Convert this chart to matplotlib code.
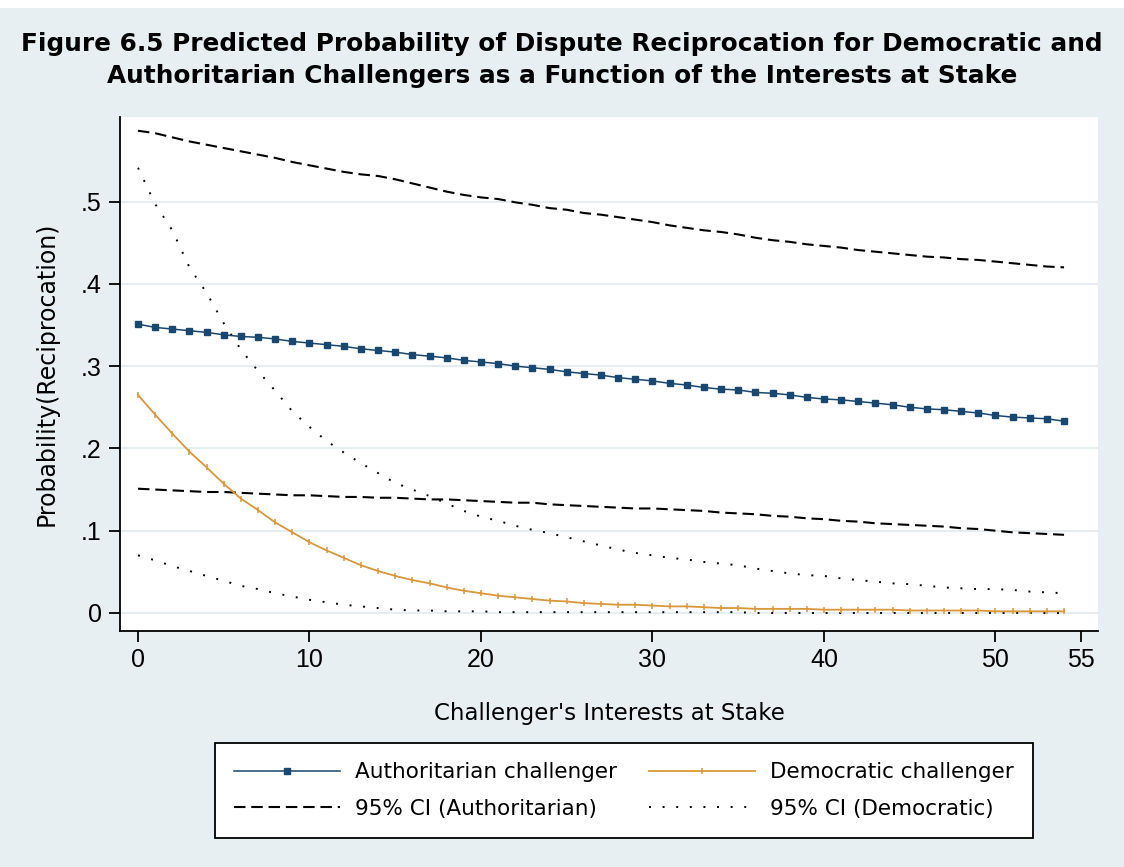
import matplotlib.pyplot as plt
from matplotlib.patches import Rectangle
import numpy as np

# Challenger's interests at stake (0..54)
interests = list(range(55))

auth_prob = [.351, .347, .345, .343, .341, .338, .336, .335, .333, .330,
             .328, .326, .324, .321, .319, .317, .314, .312, .310, .307,
             .305, .303, .300, .298, .296, .293, .291, .289, .286, .284,
             .282, .279, .277, .274, .272, .271, .268, .267, .265, .262,
             .260, .259, .257, .255, .253, .250, .248, .247, .245, .243,
             .240, .238, .237, .236, .233]

dem_prob = [.265, .241, .218, .196, .177, .157, .139, .125, .110, .098,
            .086, .076, .067, .058, .051, .045, .040, .036, .031, .027,
            .024, .021, .019, .017, .015, .014, .012, .011, .010, .010,
            .009, .008, .008, .007, .006, .006, .005, .005, .005, .005,
            .004, .004, .004, .004, .004, .003, .003, .003, .003, .003,
            .002, .002, .002, .002, .002]

auth_upper = [.586, .583, .578, .573, .569, .565, .561, .557, .553, .548,
              .544, .540, .536, .533, .531, .527, .522, .517, .512, .508,
              .505, .503, .499, .496, .492, .490, .486, .484, .481, .478,
              .475, .471, .468, .465, .463, .460, .456, .453, .451, .448,
              .446, .444, .441, .439, .437, .435, .433, .432, .430, .429,
              .427, .425, .423, .421, .420]

auth_lower = [.151, .150, .149, .148, .147, .147, .146, .145, .144, .143,
              .143, .142, .141, .141, .140, .140, .139, .138, .138, .137,
              .136, .135, .134, .134, .132, .131, .130, .129, .128, .127,
              .127, .126, .125, .124, .122, .121, .120, .118, .117, .115,
              .114, .112, .111, .109, .108, .107, .106, .105, .103, .102,
              .100, .098, .097, .096, .095]

dem_upper = [.541, .497, .465, .420, .389, .352, .320, .294, .270, .245,
             .226, .209, .195, .182, .170, .158, .150, .142, .133, .124,
             .117, .112, .106, .101, .097, .092, .087, .082, .077, .073,
             .070, .067, .065, .062, .060, .058, .054, .051, .048, .046,
             .045, .042, .040, .038, .036, .035, .033, .031, .030, .029,
             .029, .028, .026, .025, .024]

dem_lower = [.070, .064, .057, .051, .045, .039, .033, .029, .024, .020,
             .016, .013, .010, .008, .006, .004, .003, .003, .002, .002,
             .002, .001, .001, .001, .001, .001, .001, .001, .001, .001,
             .001, .001, .001, .001, .001, .001, .000, .000, .000, .000,
             .000, .000, .000, .000, .000, .000, .000, .000, .000, .000,
             .000, .000, .000, .000, .000]

y_ticks = [0, .1, .2, .3, .4, .5]
y_tick_labels = ['0', '.1', '.2', '.3', '.4', '.5']
x_ticks = [0, 10, 20, 30, 40, 50, 55]

NAVY = '#1a476f'
GOLD = '#d9973a'
BG = '#e8eff2'
GRID = '#e6eef1'

W, H = 1124, 867
fig = plt.figure(figsize=(W / 100, H / 100), dpi=100, facecolor=BG)
fig.patches.append(Rectangle((0, 1 - 8 / H), 1, 8 / H, transform=fig.transFigure,
                             facecolor='white', edgecolor='none', zorder=0))

ax = fig.add_axes([120 / W, 1 - 631 / H, (1098 - 120) / W, (631 - 117) / H])
ax.set_facecolor('white')

x = np.array(interests)
ax.plot(x, auth_prob, color=NAVY, lw=1.1, marker='s', ms=4.5, zorder=4,
        label='Authoritarian challenger')
ax.plot(x, auth_upper, color='black', lw=1.5, ls=(0, (5.5, 2.8)), zorder=3,
        label='95% CI (Authoritarian)')
ax.plot(x, auth_lower, color='black', lw=1.5, ls=(0, (5.5, 2.8)), zorder=3)
ax.plot(x, dem_prob, color=GOLD, lw=1.3, marker='|', ms=5, mew=1.1, zorder=4,
        label='Democratic challenger')
ax.plot(x, dem_upper, color='black', lw=1.4, ls=(0, (1, 6)), zorder=3,
        label='95% CI (Democratic)')
ax.plot(x, dem_lower, color='black', lw=1.4, ls=(0, (1, 6)), zorder=3)

ax.set_xlim(-1.05, 55.98)
ax.set_ylim(-0.0219, 0.6027)
ax.set_yticks(y_ticks)
ax.set_yticklabels(y_tick_labels)
ax.set_xticks(x_ticks)
for yv in y_ticks:
    ax.axhline(yv, color=GRID, lw=1.5, zorder=1)

for side in ('top', 'right'):
    ax.spines[side].set_visible(False)
for side in ('left', 'bottom'):
    ax.spines[side].set_linewidth(1.3)
    ax.spines[side].set_color('black')
ax.tick_params(direction='out', length=8, width=1.3, colors='black')
for lbl in ax.get_xticklabels() + ax.get_yticklabels():
    lbl.set_family('Liberation Sans')
    lbl.set_fontsize(18)
ax.tick_params(axis='x', pad=4)
ax.tick_params(axis='y', pad=5)

ax.set_xlabel("Challenger's Interests at Stake", fontsize=16.5,
              family='DejaVu Sans', labelpad=22)
ax.set_ylabel('Probability(Reciprocation)', fontsize=17,
              family='DejaVu Sans', labelpad=16)

fig.text(0.5, 1 - 44 / H,
         'Figure 6.5 Predicted Probability of Dispute Reciprocation for Democratic and',
         ha='center', va='center', fontsize=17.8, fontweight='bold', family='DejaVu Sans')
fig.text(0.5, 1 - 76 / H,
         'Authoritarian Challengers as a Function of the Interests at Stake',
         ha='center', va='center', fontsize=17.8, fontweight='bold', family='DejaVu Sans')

handles, labels = ax.get_legend_handles_labels()
leg = fig.legend(handles, labels, ncol=2, loc='lower left',
                 bbox_to_anchor=(215 / W, 1 - 838 / H, (1033 - 215) / W, 103 / H),
                 mode='expand', borderaxespad=0,
                 prop={'family': 'DejaVu Sans', 'size': 15.5},
                 handlelength=4.9, handletextpad=0.7, numpoints=1,
                 labelspacing=0.75, borderpad=0.9, fancybox=False,
                 frameon=True, edgecolor='black', facecolor='white')
leg.get_frame().set_linewidth(1.3)
leg.get_frame().set_alpha(1)

fig.savefig('out.png', dpi=100, facecolor=BG)
